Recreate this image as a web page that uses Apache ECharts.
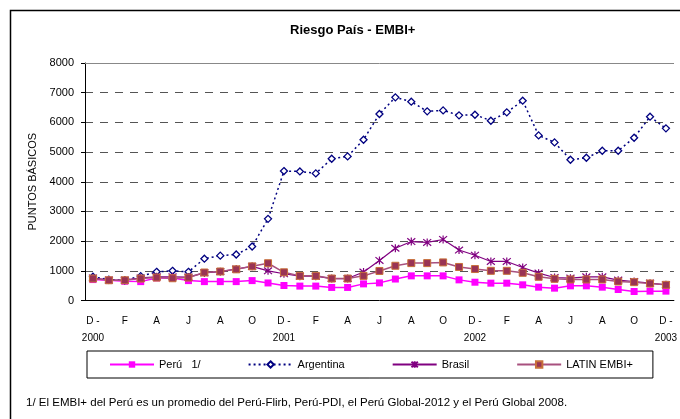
<!DOCTYPE html>
<html>
<head>
<meta charset="utf-8">
<script src="https://cdn.jsdelivr.net/npm/echarts@6/dist/echarts.min.js"></script>
<style>
  html, body { margin: 0; padding: 0; background: #fff; }
  #chart { width: 680px; height: 419px; }
</style>
</head>
<body>
<div id="chart"></div>
<script>
// meses de dic-2000 a dic-2003
var meses = ['D -\n2000','E','F','M','A','M','J','J','A','S','O','N',
             'D -\n2001','E','F','M','A','M','J','J','A','S','O','N',
             'D -\n2002','E','F','M','A','M','J','J','A','S','O','N',
             'D -\n2003'];

var peru = [705, 682, 648, 636, 761, 761, 670, 636, 636, 636, 670, 591,
            505, 485, 485, 440, 440, 560, 593, 723, 830, 830, 830, 695,
            616, 584, 584, 528, 449, 416, 494, 494, 449, 371, 303, 315, 315];

var argentina = [800, 700, 680, 820, 966, 1000, 966, 1409, 1511, 1550, 1820, 2750,
                 4360, 4348, 4281, 4775, 4854, 5416, 6281, 6843, 6697, 6371, 6404, 6236,
                 6258, 6056, 6337, 6730, 5562, 5326, 4742, 4809, 5045, 5045, 5483, 6191, 5798];

var brasil = [760, 690, 690, 760, 800, 800, 790, 930, 970, 1060, 1150, 1000,
              900, 818, 818, 740, 740, 960, 1350, 1760, 1985, 1955, 2055, 1700,
              1525, 1315, 1315, 1112, 921, 775, 753, 798, 798, 685, 640, 584, 528];

var latin = [739, 682, 682, 739, 773, 750, 773, 943, 977, 1050, 1150, 1255,
             950, 830, 830, 740, 740, 830, 995, 1170, 1260, 1260, 1283, 1130,
             1060, 1000, 1000, 933, 798, 730, 708, 708, 708, 640, 618, 573, 528];

var fuente = "'Liberation Sans', Arial, sans-serif";
var asterisco = 'path://M0,0L10,10M10,0L0,10M5,-1L5,11';

var chart = echarts.init(document.getElementById('chart'));

var option = {
	animation: false,
	backgroundColor: '#fff',
	textStyle: { fontFamily: fuente, color: '#000' },
	title: {
		text: 'Riesgo País - EMBI+',
		left: 290,
		top: 24,
		padding: 0,
		textStyle: { fontSize: 13, fontWeight: 'bold', color: '#000', fontFamily: fuente }
	},
	grid: { left: 85, right: 1, top: 63, bottom: 118.5 },
	legend: {
		left: 87,
		top: 351,
		padding: [8, 20, 8, 22],
		borderColor: '#000',
		borderWidth: 1,
		itemWidth: 44,
		itemHeight: 8,
		itemGap: 47,
		textStyle: { fontSize: 11, color: '#000', fontFamily: fuente },
		data: ['Perú   1/', 'Argentina', 'Brasil', 'LATIN EMBI+']
	},
	xAxis: {
		type: 'category',
		data: meses,
		boundaryGap: true,
		axisLine: { lineStyle: { color: '#000', width: 1 } },
		axisTick: { interval: 0, length: 4, lineStyle: { color: '#000' } },
		axisLabel: {
			interval: 1,
			margin: 12,
			fontSize: 10,
			lineHeight: 17,
			color: '#000',
			hideOverlap: false,
			fontFamily: fuente
		}
	},
	yAxis: {
		type: 'value',
		min: 0,
		max: 8000,
		interval: 1000,
		name: 'PUNTOS BÁSICOS',
		nameLocation: 'middle',
		nameGap: 40,
		nameTextStyle: { fontSize: 11, color: '#000', fontFamily: fuente },
		axisLine: { show: true, lineStyle: { color: '#000', width: 1 } },
		axisTick: { show: true, length: 4, lineStyle: { color: '#000' } },
		axisLabel: {
			margin: 11, fontSize: 11, color: '#000', fontFamily: fuente,
			formatter: function (v) { return String(v); }
		},
		splitLine: { show: true, lineStyle: { color: '#555', width: 1.2, type: [8, 7] } }
	},
	series: [
		{
			name: 'Perú   1/',
			type: 'line',
			data: peru,
			symbol: 'rect',
			symbolSize: 7,
			color: '#FF00FF',
			lineStyle: { color: '#FF00FF', width: 1.5 },
			itemStyle: { color: '#FF00FF' },
			markLine: {
				silent: true,
				symbol: ['none', 'none'],
				label: { show: false },
				lineStyle: { color: '#888', type: 'solid', width: 1 },
				data: [{ yAxis: 8000 }]
			},
			z: 2
		},
		{
			name: 'Argentina',
			type: 'line',
			data: argentina,
			symbol: 'diamond',
			symbolSize: 7,
			color: '#000080',
			lineStyle: { color: '#000080', width: 1.5, type: [2, 3] },
			itemStyle: { color: '#fff', borderColor: '#000080', borderWidth: 1.3 },
			z: 3
		},
		{
			name: 'Brasil',
			type: 'line',
			data: brasil,
			symbol: asterisco,
			symbolSize: 8,
			color: '#800080',
			lineStyle: { color: '#800080', width: 1.2 },
			itemStyle: { color: '#800080', borderColor: '#800080', borderWidth: 1.2 },
			z: 4
		},
		{
			name: 'LATIN EMBI+',
			type: 'line',
			data: latin,
			symbol: 'rect',
			symbolSize: 7,
			color: '#993355',
			lineStyle: { color: '#A8507E', width: 1.5 },
			itemStyle: { color: '#993355', borderColor: '#C8703A', borderWidth: 1 },
			z: 5
		}
	],
	graphic: [
		{
			type: 'rect',
			shape: { x: 10.5, y: 10.5, width: 700, height: 500 },
			style: { fill: 'none', stroke: '#000', lineWidth: 1.5 },
			silent: true
		},
		{
			type: 'text',
			left: 26,
			top: 397,
			style: {
				text: '1/ El EMBI+ del Perú es un promedio del Perú-Flirb, Perú-PDI, el Perú Global-2012 y el Perú Global 2008.',
				fontSize: 11.5,
				fontFamily: fuente,
				fill: '#000'
			}
		}
	]
};

chart.setOption(option);
</script>
</body>
</html>
